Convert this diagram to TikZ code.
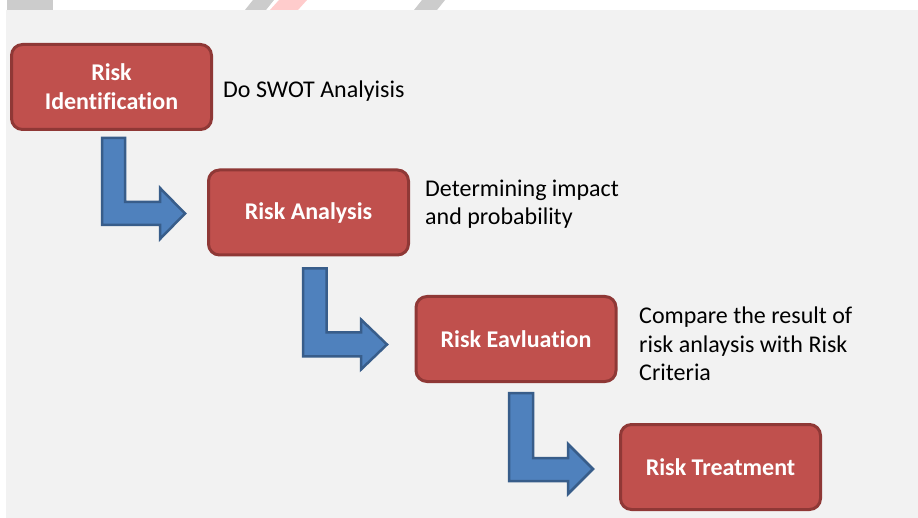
\documentclass[tikz,border=0pt]{standalone}
\usepackage{fontspec}
\setmainfont{Carlito}[Ligatures=NoCommon]
\usetikzlibrary{calc}
\definecolor{bgpanel}{HTML}{F2F2F2}
\definecolor{boxfill}{HTML}{C0504D}
\definecolor{boxline}{HTML}{8F3836}
\definecolor{arrfill}{HTML}{4F81BD}
\definecolor{arrline}{HTML}{385D8A}
\definecolor{wmgray}{HTML}{CCCCCC}
\definecolor{wmpink}{HTML}{FFCCCC}
\tikzset{
  stepbox/.style={draw=boxline, fill=boxfill, line width=3pt, rounded corners=11pt,
    minimum width=200pt, minimum height=85pt, inner sep=0pt, align=center,
    text=white, font=\fontsize{24}{29}\selectfont\bfseries},
  note/.style={anchor=base west, inner sep=0pt, align=left, text=black,
    font=\fontsize{24}{28.5}\selectfont},
  bentarrow/.style={draw=arrline, fill=arrfill, line width=2.5pt, line join=miter}
}
\begin{document}
\begin{tikzpicture}[x=1pt,y=-1pt]
\useasboundingbox (0,0) rectangle (918,518);
\fill[white] (0,0) rectangle (918,518);
\fill[bgpanel] (6,10) rectangle (918,518);
% watermark strip
\fill[wmgray] (7,0) rectangle (53,10);
\fill[wmgray] (245,10) -- (266,10) -- (274,0) -- (253,0) -- cycle;
\fill[wmpink] (270,10) -- (298,10) -- (307,0) -- (279,0) -- cycle;
\fill[wmgray] (414,10) -- (437,10) -- (445,0) -- (422,0) -- cycle;
% boxes
\node[stepbox] (b1) at (111.5,87) {Risk\\Identification};
\node[stepbox] (b2) at (308.5,212.5) {Risk Analysis};
\node[stepbox] (b3) at (516,339) {Risk Eavluation};
\node[stepbox] (b4) at (720.5,467) {Risk Treatment};
% notes (anchored at the baseline of their last line)
\node[note] (n1) at (223,98) {Do SWOT Analyisis};
\node[note] (n2) at (425,225) {Determining impact\\and probability};
\node[note] (n3) at (639,381) {Compare the result of\\risk anlaysis with Risk\\Criteria};
% bent arrows
\draw[bentarrow] ($(b1.south)+(-9.5,7)$) -- ++(23,0) -- ++(0,64) -- ++(35,0) -- ++(0,-14)
  -- ++(25,25.5) -- ++(-25,25.5) -- ++(0,-14) -- ++(-58,0) -- cycle;
\draw[bentarrow] ($(b2.south)+(-5.5,12)$) -- ++(23.5,0) -- ++(0,64) -- ++(34.5,0) -- ++(0,-13)
  -- ++(26,25) -- ++(-26,25) -- ++(0,-13) -- ++(-58,0) -- cycle;
\draw[bentarrow] ($(b3.south)+(-7,10)$) -- ++(24,0) -- ++(0,65) -- ++(35,0) -- ++(0,-14)
  -- ++(25,25) -- ++(-25,25) -- ++(0,-13) -- ++(-59,0) -- cycle;
\end{tikzpicture}
\end{document}
